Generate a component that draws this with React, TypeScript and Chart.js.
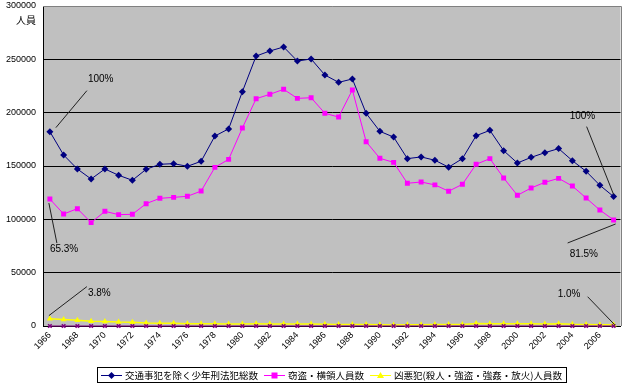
import React, { useEffect, useRef } from "react";
import { Chart, registerables } from "chart.js";

Chart.register(...registerables);

const years = [
  "1966", "1967", "1968", "1969", "1970", "1971", "1972", "1973", "1974", "1975",
  "1976", "1977", "1978", "1979", "1980", "1981", "1982", "1983", "1984", "1985",
  "1986", "1987", "1988", "1989", "1990", "1991", "1992", "1993", "1994", "1995",
  "1996", "1997", "1998", "1999", "2000", "2001", "2002", "2003", "2004", "2005",
  "2006", "2007",
];

const totalJuvenile = [
  182200, 160300, 147200, 137800, 147200, 141300, 136600, 146900, 151600, 152200,
  149700, 154400, 178100, 184800, 219700, 253100, 257800, 261600, 248400, 250300,
  235300, 228400, 231600, 199400, 182500, 177100, 156900, 158500, 155400, 148900,
  156900, 178400, 183400, 164400, 152800, 158100, 162500, 166300, 155000, 145000,
  131900, 121300,
];

const theftEmbezzlement = [
  119000, 105000, 110000, 96900, 107500, 104400, 104700, 114700, 119700, 120600,
  121600, 126500, 148700, 156200, 185700, 213100, 217200, 221900, 213400, 214000,
  199400, 195900, 221300, 172800, 157200, 153400, 133800, 135000, 132300, 126400,
  132800, 151600, 156900, 138800, 122500, 129400, 134700, 138400, 131200, 120000,
  108700, 99400,
];

const heinous = [
  6900, 6100, 5400, 4500, 4300, 3800, 3600, 2900, 2600, 2500,
  2200, 2100, 2000, 1900, 1900, 2000, 1900, 1800, 1800, 1800,
  1600, 1500, 1400, 1300, 1100, 1000, 1100, 1200, 1300, 1300,
  1500, 2300, 2200, 2200, 2100, 2100, 1900, 2200, 1600, 1400,
  1200, 1200,
];

const hiddenSeries = [
  0, 0, 0, 0, 0, 0, 0, 0, 0, 0,
  0, 0, 0, 0, 0, 0, 0, 0, 0, 0,
  0, 0, 0, 0, 0, 0, 0, 0, 0, 0,
  0, 0, 0, 0, 0, 0, 0, 0, 0, 0,
  0, 0,
];

const seriesNames = [
  "交通事犯を除く少年刑法犯総数",
  "窃盗・横領人員数",
  "凶悪犯(殺人・強盗・強姦・放火)人員数",
];

const yTicks = [0, 50000, 100000, 150000, 200000, 250000, 300000];
const yAxisUnit = "人員";

const percentLabels = ["100%", "65.3%", "3.8%", "100%", "81.5%", "1.0%"];

// annotation layout (dataset, point index, line offsets, text offsets)
const annotationLayout = [
  { ds: 0, idx: 0, line: [6, -4, 37, -41], tx: 38, ty: -52 },
  { ds: 1, idx: 0, line: [-1, 4, 7, 44], tx: 0, ty: 50 },
  { ds: 2, idx: 0, line: [-1, -3, 37, -32], tx: 38, ty: -25 },
  { ds: 0, idx: 41, line: [-27, -70, 0, -2], tx: -44, ty: -80 },
  { ds: 1, idx: 41, line: [-46, 23, 2, 4], tx: -44, ty: 34 },
  { ds: 2, idx: 41, line: [-26, -28, 1, 0], tx: -56, ty: -30 },
];

const NAVY = "#000080";
const MAGENTA = "#FF00FF";
const YELLOW = "#FFFF00";
const PURPLE = "#800080";

const plotBgPlugin = {
  id: "plotBg",
  beforeDraw(chart: any) {
    const { ctx, chartArea } = chart;
    ctx.save();
    ctx.fillStyle = "#ffffff";
    ctx.fillRect(0, 0, chart.width, chart.height);
    ctx.fillStyle = "#C0C0C0";
    ctx.fillRect(chartArea.left, chartArea.top, chartArea.right - chartArea.left, chartArea.bottom - chartArea.top);
    ctx.restore();
  },
  beforeDatasetsDraw(chart: any) {
    const { ctx, chartArea } = chart;
    ctx.save();
    ctx.strokeStyle = "#808080";
    ctx.lineWidth = 1;
    ctx.beginPath();
    ctx.moveTo(chartArea.left, Math.round(chartArea.top) + 0.5);
    ctx.lineTo(Math.round(chartArea.right) + 0.5, Math.round(chartArea.top) + 0.5);
    ctx.lineTo(Math.round(chartArea.right) + 0.5, chartArea.bottom);
    ctx.stroke();
    ctx.fillStyle = "#000";
    ctx.font = "10px 'Noto Sans CJK JP'";
    ctx.textAlign = "right";
    ctx.textBaseline = "middle";
    ctx.fillText(yAxisUnit, chartArea.left - 7, chartArea.top + 14);
    ctx.restore();
  },
};

const annotationPlugin = {
  id: "pctAnnotations",
  afterDatasetsDraw(chart: any) {
    const { ctx } = chart;
    ctx.save();
    annotationLayout.forEach((a, i) => {
      const pt = chart.getDatasetMeta(a.ds).data[a.idx];
      if (!pt) return;
      const x = pt.x;
      const y = pt.y;
      ctx.strokeStyle = "#202020";
      ctx.lineWidth = 1;
      ctx.beginPath();
      ctx.moveTo(x + a.line[0], y + a.line[1]);
      ctx.lineTo(x + a.line[2], y + a.line[3]);
      ctx.stroke();
      ctx.fillStyle = "#000";
      ctx.font = "10px 'Liberation Sans'";
      ctx.textAlign = "left";
      ctx.textBaseline = "middle";
      ctx.fillText(percentLabels[i], x + a.tx, y + a.ty);
    });
    ctx.restore();
  },
};

const drawMarker = (ctx: CanvasRenderingContext2D, style: string, x: number, y: number, color: string) => {
  ctx.fillStyle = color;
  ctx.strokeStyle = color;
  ctx.beginPath();
  if (style === "rectRot") {
    ctx.moveTo(x, y - 3.5);
    ctx.lineTo(x + 3.5, y);
    ctx.lineTo(x, y + 3.5);
    ctx.lineTo(x - 3.5, y);
    ctx.closePath();
    ctx.fill();
  } else if (style === "rect") {
    ctx.fillRect(x - 3, y - 3, 6, 6);
  } else {
    ctx.moveTo(x, y - 3.5);
    ctx.lineTo(x + 3.5, y + 2.5);
    ctx.lineTo(x - 3.5, y + 2.5);
    ctx.closePath();
    ctx.fill();
  }
};

const legendPlugin = {
  id: "customLegend",
  afterDraw(chart: any) {
    const { ctx, chartArea } = chart;
    const styles = [
      { color: NAVY, marker: "rectRot" },
      { color: MAGENTA, marker: "rect" },
      { color: YELLOW, marker: "triangle" },
    ];
    ctx.save();
    ctx.font = "9.5px 'Noto Sans CJK JP'";
    const sample = 21;
    const gapSample = 3;
    const gapItem = 6;
    const pad = 4;
    const widths = seriesNames.map((n) => ctx.measureText(n).width);
    let total = pad * 2;
    widths.forEach((w, i) => {
      total += sample + gapSample + w + (i < widths.length - 1 ? gapItem : 0);
    });
    const cx = (chartArea.left + chartArea.right) / 2;
    const left = Math.round(cx - total / 2);
    const top = 367;
    const h = 15;
    ctx.fillStyle = "#fff";
    ctx.fillRect(left, top, total, h);
    ctx.strokeStyle = "#000";
    ctx.lineWidth = 1;
    ctx.strokeRect(left + 0.5, top + 0.5, Math.round(total), h);
    const cy = top + h / 2 + 0.5;
    let x = left + pad;
    seriesNames.forEach((n, i) => {
      const st = styles[i];
      ctx.strokeStyle = st.color;
      ctx.lineWidth = 1;
      ctx.beginPath();
      ctx.moveTo(x, Math.round(cy) + 0.5);
      ctx.lineTo(x + sample, Math.round(cy) + 0.5);
      ctx.stroke();
      drawMarker(ctx, st.marker, x + sample / 2, Math.round(cy) + 0.5, st.color);
      x += sample + gapSample;
      ctx.fillStyle = "#000";
      ctx.textAlign = "left";
      ctx.textBaseline = "middle";
      ctx.fillText(n, x, cy);
      x += widths[i] + gapItem;
    });
    ctx.restore();
  },
};

export default function App() {
  const canvasRef = useRef<HTMLCanvasElement | null>(null);

  useEffect(() => {
    document.body.style.margin = "0";
    const canvas = canvasRef.current;
    if (!canvas) return;
    const chart = new Chart(canvas, {
      type: "line",
      data: {
        labels: years,
        datasets: [
          {
            label: seriesNames[0],
            data: totalJuvenile,
            borderColor: NAVY,
            backgroundColor: NAVY,
            borderWidth: 1,
            pointStyle: "rectRot",
            pointRadius: 3.5,
            pointBorderWidth: 0,
            tension: 0,
          },
          {
            label: seriesNames[1],
            data: theftEmbezzlement,
            borderColor: MAGENTA,
            backgroundColor: MAGENTA,
            borderWidth: 1,
            pointStyle: "rect",
            pointRadius: 3.5,
            pointBorderWidth: 0,
            tension: 0,
          },
          {
            label: seriesNames[2],
            data: heinous,
            borderColor: YELLOW,
            backgroundColor: YELLOW,
            borderWidth: 1.5,
            pointStyle: "triangle",
            pointRadius: 3.5,
            pointBorderWidth: 0,
            tension: 0,
            clip: false,
          },
          {
            label: "",
            data: hiddenSeries,
            borderColor: PURPLE,
            backgroundColor: PURPLE,
            borderWidth: 1,
            pointStyle: "crossRot",
            pointRadius: 2.5,
            pointBorderWidth: 1.5,
            tension: 0,
            clip: false,
            order: -1,
          },
        ],
      },
      options: {
        animation: false,
        responsive: false,
        maintainAspectRatio: false,
        layout: { padding: { top: 6, right: 4, left: 0, bottom: 0 } },
        plugins: {
          legend: { display: false },
          tooltip: { enabled: false },
        },
        scales: {
          x: {
            offset: true,
            grid: { display: false, drawTicks: false },
            border: { display: true, color: "#000", width: 1 },
            afterFit: (scale: any) => {
              scale.height = 59;
              scale.paddingTop = 0;
              scale.paddingBottom = 0;
            },
            ticks: {
              autoSkip: false,
              minRotation: 45,
              maxRotation: 45,
              padding: 4,
              color: "#000",
              font: { family: "'Liberation Sans'", size: 9 },
              callback: (_v: any, i: number) => (i % 2 === 0 ? years[i] : ""),
            },
          },
          y: {
            min: 0,
            max: 300000,
            afterFit: (scale: any) => {
              scale.width = 43;
              scale.paddingTop = 0;
              scale.paddingBottom = 0;
            },
            afterBuildTicks: (scale: any) => {
              scale.ticks = yTicks.map((v) => ({ value: v }));
            },
            grid: {
              drawTicks: false,
              color: (c: any) => (c.tick && c.tick.value === 300000 ? "rgba(0,0,0,0)" : "#000"),
              lineWidth: 1,
            },
            border: { display: true, color: "#000", width: 1 },
            ticks: {
              padding: 7,
              color: "#000",
              font: { family: "'Liberation Sans'", size: 9 },
              callback: (v: any) => String(v),
            },
          },
        },
      },
      plugins: [plotBgPlugin, annotationPlugin, legendPlugin],
    });
    return () => chart.destroy();
  }, []);

  return (
    <div style={{ position: "absolute", left: 0, top: 0, width: 626, height: 385 }}>
      <canvas ref={canvasRef} width={626} height={385} style={{ width: 626, height: 385 }} />
    </div>
  );
}
